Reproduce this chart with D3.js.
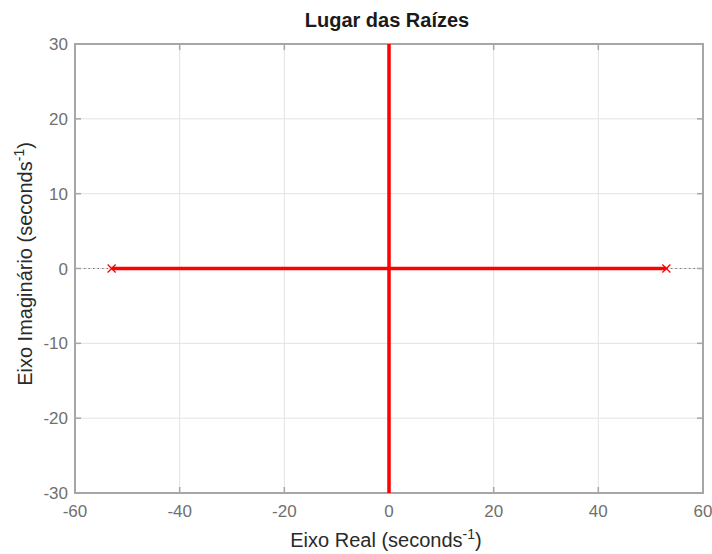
<!DOCTYPE html>
<html><head><meta charset="utf-8">
<script src="https://cdn.jsdelivr.net/npm/d3@7"></script>
<style>body{margin:0;background:#fff}svg{display:block;font-family:"Liberation Sans",Arial,sans-serif}</style>
</head><body><svg id="c" width="712" height="554"></svg>
<script>
const xTicks = [-60,-40,-20,0,20,40,60];
const yTicks = [-30,-20,-10,0,10,20,30];
const poles = [-53, 53];
const locusReal = [[-53,0],[53,0]];
const locusImag = [[0,-30],[0,30]];
const title = "Lugar das Raízes";

const svg = d3.select("#c");
const L=75,R=703,T=44,B=493;
const x = d3.scaleLinear().domain([-60,60]).range([L,R]);
const y = d3.scaleLinear().domain([-30,30]).range([B,T]);

// grid
svg.append("g").selectAll("line.gx").data(xTicks).join("line")
  .attr("x1",d=>x(d)).attr("x2",d=>x(d)).attr("y1",T).attr("y2",B)
  .attr("stroke","#e3e3e3").attr("stroke-width",1);
svg.append("g").selectAll("line.gy").data(yTicks).join("line")
  .attr("y1",d=>y(d)).attr("y2",d=>y(d)).attr("x1",L).attr("x2",R)
  .attr("stroke","#e3e3e3").attr("stroke-width",1);

// dotted extension lines
svg.append("line").attr("x1",x(-60)).attr("x2",x(poles[0])).attr("y1",y(0)).attr("y2",y(0))
  .attr("stroke","#777").attr("stroke-width",1).attr("stroke-dasharray","1.5,3");
svg.append("line").attr("x1",x(poles[1])).attr("x2",x(60)).attr("y1",y(0)).attr("y2",y(0))
  .attr("stroke","#777").attr("stroke-width",1).attr("stroke-dasharray","1.5,3");

// axes box
svg.append("rect").attr("x",L).attr("y",T).attr("width",R-L).attr("height",B-T)
  .attr("fill","none").attr("stroke","#a6a6a6").attr("stroke-width",2);

// ticks (inward)
const tk=6;
svg.append("g").selectAll("line").data(xTicks).join("line")
  .attr("x1",d=>x(d)).attr("x2",d=>x(d)).attr("y1",B).attr("y2",B-tk).attr("stroke","#a6a6a6").attr("stroke-width",1.5);
svg.append("g").selectAll("line").data(xTicks).join("line")
  .attr("x1",d=>x(d)).attr("x2",d=>x(d)).attr("y1",T).attr("y2",T+tk).attr("stroke","#a6a6a6").attr("stroke-width",1.5);
svg.append("g").selectAll("line").data(yTicks).join("line")
  .attr("y1",d=>y(d)).attr("y2",d=>y(d)).attr("x1",L).attr("x2",L+tk).attr("stroke","#a6a6a6").attr("stroke-width",1.5);
svg.append("g").selectAll("line").data(yTicks).join("line")
  .attr("y1",d=>y(d)).attr("y2",d=>y(d)).attr("x1",R).attr("x2",R-tk).attr("stroke","#a6a6a6").attr("stroke-width",1.5);

// locus (drawn over the box)
const line = d3.line().x(d=>x(d[0])).y(d=>y(d[1]));
[locusReal, locusImag].forEach(p=>{
  svg.append("path").attr("d",line(p)).attr("stroke","#ff0000").attr("stroke-width",3.5).attr("fill","none");
});

// poles
svg.append("g").selectAll("path").data(poles).join("path")
  .attr("d",d=>{const cx=x(d),cy=y(0),s=4;return `M${cx-s},${cy-s}L${cx+s},${cy+s}M${cx-s},${cy+s}L${cx+s},${cy-s}`;})
  .attr("stroke","#ff0000").attr("stroke-width",1.3).attr("fill","none");

// tick labels
svg.append("g").selectAll("text").data(xTicks).join("text")
  .attr("x",d=>x(d)).attr("y",B+24).attr("text-anchor","middle")
  .attr("font-size",17).attr("fill","#707070").text(d=>d);
svg.append("g").selectAll("text").data(yTicks).join("text")
  .attr("x",L-7).attr("y",d=>y(d)+6).attr("text-anchor","end")
  .attr("font-size",17).attr("fill","#707070").text(d=>d);

// title
svg.append("text").attr("x",387).attr("y",27).attr("text-anchor","middle")
  .attr("font-size",20).attr("font-weight","bold").attr("fill","#1a1a1a").text(title);

// x label
const xl = svg.append("text").attr("x",386).attr("y",547).attr("text-anchor","middle")
  .attr("font-size",20).attr("fill","#2a2a2a");
xl.append("tspan").text("Eixo Real (seconds");
xl.append("tspan").attr("font-size",14).attr("dy",-8).text("-1");
xl.append("tspan").attr("dy",8).text(")");

// y label
const yl = svg.append("text").attr("transform",`translate(32,264) rotate(-90)`)
  .attr("text-anchor","middle").attr("font-size",20).attr("fill","#2a2a2a");
yl.append("tspan").text("Eixo Imaginário (seconds");
yl.append("tspan").attr("font-size",14).attr("dy",-8).text("-1");
yl.append("tspan").attr("dy",8).text(")");
</script></body></html>
